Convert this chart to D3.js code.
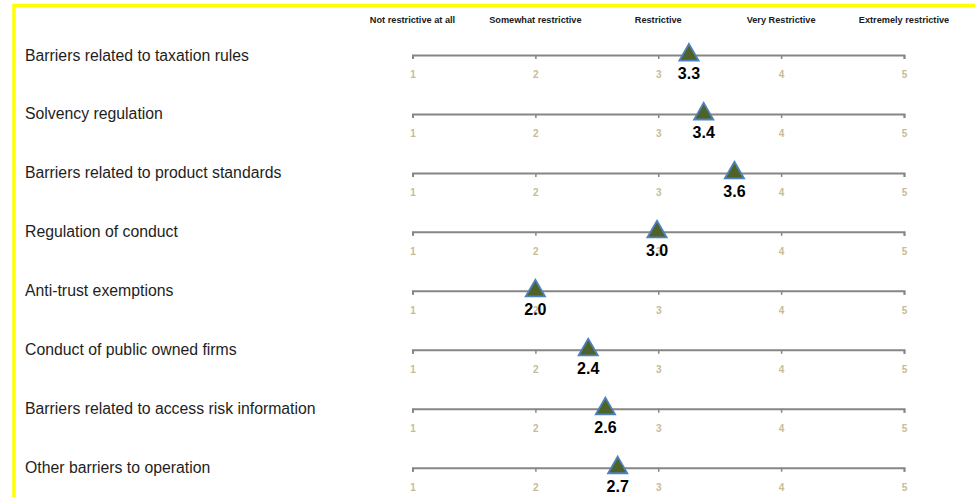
<!DOCTYPE html>
<html>
<head>
<meta charset="utf-8">
<script src="https://cdn.jsdelivr.net/npm/d3@7"></script>
<style>
  body { margin: 0; background: #fff; }
  svg { display: block; }
</style>
</head>
<body>
<div id="chart"></div>
<script>
// data
const categories = [
    "Barriers related to taxation rules",
    "Solvency regulation",
    "Barriers related to product standards",
    "Regulation of conduct",
    "Anti-trust exemptions",
    "Conduct of public owned firms",
    "Barriers related to access risk information",
    "Other barriers to operation"
];
const scores = [3.25, 3.37, 3.62, 2.99, 2.0, 2.43, 2.57, 2.67];
const scaleTicks = [1, 2, 3, 4, 5];
const scaleNames = ["Not restrictive at all", "Somewhat restrictive", "Restrictive", "Very Restrictive", "Extremely restrictive"];

const width = 975, height = 497;

const svg = d3.select("#chart").append("svg")
    .attr("width", width)
    .attr("height", height);

// yellow frame (extends past the right and bottom edge)
svg.append("path")
    .attr("d", "M14," + (height + 10) + "V5.5H" + (width + 10))
    .attr("fill", "none")
    .attr("stroke", "#ffff00")
    .attr("stroke-width", 3.5);

const x = d3.scaleLinear().domain([1, 5]).range([412.5, 904]);
const y = d3.scalePoint().domain(categories).range([55, 467.7]);

// header with the scale names
svg.append("g").selectAll("text")
    .data(scaleTicks)
    .join("text")
    .attr("x", d => x(d))
    .attr("y", 23)
    .attr("text-anchor", "middle")
    .style("font-family", "'Liberation Sans', Arial, sans-serif")
    .style("font-weight", "bold")
    .style("font-size", "9.2px")
    .attr("fill", "#1a1a1a")
    .text((d, i) => scaleNames[i]);

// one row per category
const rows = svg.append("g").selectAll("g")
    .data(categories)
    .join("g")
    .attr("transform", d => "translate(0," + y(d) + ")");

rows.append("text")
    .attr("x", 25)
    .attr("y", 0)
    .attr("dy", "0.35em")
    .style("font-family", "'Liberation Sans', Arial, sans-serif")
    .style("font-size", "15.8px")
    .attr("fill", "#1e1e1e")
    .text(d => d);

rows.append("g")
    .each(function () {
        const g = d3.select(this).call(
            d3.axisBottom(x)
                .tickValues(scaleTicks)
                .tickSize(4)
                .tickSizeOuter(4)
                .tickPadding(12)
                .tickFormat(d3.format("d"))
        );
        g.select(".domain").attr("stroke", "#868686").attr("stroke-width", 2);
        g.selectAll(".tick line").attr("stroke", "#868686").attr("stroke-width", 1.5);
        g.selectAll(".tick text")
            .attr("fill", "#c4bd97")
            .attr("font-family", "'Liberation Sans', Arial, sans-serif")
            .attr("font-weight", "bold")
            .attr("font-size", "10px")
            .style("font-size", "10px");
    });

// markers
const tri = d3.symbol().type(d3.symbolTriangle).size(160);

rows.append("path")
    .attr("d", tri)
    .attr("transform", (d, i) => "translate(" + x(scores[i]) + ",0)")
    .attr("fill", "#4f6228")
    .attr("stroke", "#4f81bd")
    .attr("stroke-width", 1.8);

rows.append("text")
    .attr("x", (d, i) => x(scores[i]))
    .attr("y", 24)
    .attr("text-anchor", "middle")
    .style("font-family", "'Liberation Sans', Arial, sans-serif")
    .style("font-weight", "bold")
    .style("font-size", "16px")
    .attr("fill", "#000")
    .text((d, i) => d3.format(".1f")(scores[i]));
</script>
</body>
</html>
